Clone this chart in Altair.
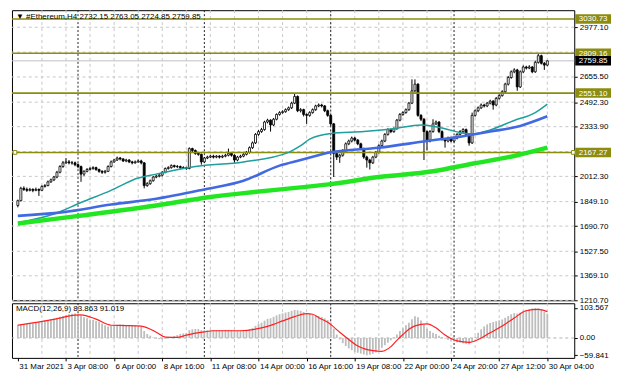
import altair as alt
import pandas as pd

# ---------------- data ----------------
title_text = "\u25bc #Ethereum,H4  2732.15 2763.05 2724.85 2759.85"
macd_text = "MACD(12,26,9) 83.863 91.019"

date_labels = ["31 Mar 2021", "3 Apr 08:00", "6 Apr 00:00", "8 Apr 16:00", "11 Apr 08:00",
               "14 Apr 00:00", "16 Apr 16:00", "19 Apr 08:00", "22 Apr 00:00", "24 Apr 20:00",
               "27 Apr 12:00", "30 Apr 04:00"]
label_bars = [0, 16, 32, 48, 64, 80, 96, 112, 128, 144, 160, 176]
grid_bars = [8, 16, 24, 32, 40, 48, 56, 64, 72, 80, 88, 96, 104, 112, 120, 128, 136, 144, 152, 160, 168, 176]
week_separators = [20, 62, 104, 145]

price_ticks = [2977.10, 2655.50, 2492.30, 2333.90, 2012.30, 1849.10, 1690.70, 1527.50, 1369.10, 1210.70]
price_grid = [2977.10, 2816.30, 2655.50, 2492.30, 2333.90, 2173.10, 2012.30, 1849.10, 1690.70, 1527.50, 1369.10, 1210.70]

levels = [3030.73, 2809.16, 2551.10, 2167.27]
level_labels = ["3030.73", "2809.16", "2551.10", "2167.27"]
bid_price = 2759.85
bid_label = "2759.85"

first_open = 1824.0
close = [1855, 1935, 1928, 1922, 1928, 1922, 1928, 1922, 1947, 1953,
         1977, 1990, 2008, 2039, 2076, 2100, 2106, 2100, 2100, 2088,
         2076, 2027, 2045, 2057, 2063, 2069, 2057, 2045, 2039, 2045,
         2076, 2106, 2118, 2131, 2125, 2112, 2118, 2106, 2100, 2106,
         2112, 2100, 1953, 1965, 1984, 2008, 2014, 2020, 2039, 2063,
         2069, 2082, 2076, 2076, 2069, 2069, 2063, 2192, 2180,
         2161, 2155, 2106, 2131, 2137, 2143, 2137, 2143, 2137, 2143,
         2149, 2161, 2149, 2118, 2137, 2143, 2155, 2168, 2198, 2229,
         2284, 2302, 2315, 2364, 2376, 2345, 2382, 2413, 2425, 2431,
         2444, 2456, 2486, 2529, 2437, 2444, 2413, 2407, 2425, 2444,
         2468, 2474, 2468, 2437, 2407, 2352, 2161, 2137, 2149, 2180,
         2223, 2241, 2260, 2247, 2223, 2192, 2137, 2118, 2100,
         2137, 2168, 2211, 2241, 2284, 2315, 2302, 2321, 2376, 2413,
         2425, 2444, 2486, 2566, 2609, 2407, 2382, 2302, 2241, 2302,
         2352, 2364, 2302, 2253, 2241, 2260, 2241, 2260, 2284, 2302,
         2315, 2284, 2229, 2407, 2437, 2456, 2474, 2468, 2486, 2499,
         2474, 2517, 2535, 2560, 2609, 2652, 2689, 2701, 2591, 2689,
         2720, 2713, 2720, 2689, 2750, 2793, 2744, 2732.15, 2759.85]
high = [1862, 1945, 1948, 1940, 1938, 1935, 1940, 1934, 1955, 1962,
        1985, 1998, 2015, 2048, 2085, 2112, 2131, 2118, 2112, 2108,
        2096, 2082, 2052, 2066, 2072, 2078, 2075, 2062, 2052, 2054,
        2084, 2115, 2126, 2140, 2138, 2130, 2126, 2124, 2113, 2115,
        2122, 2120, 2104, 1975, 1992, 2015, 2024, 2030, 2046, 2070,
        2078, 2090, 2088, 2086, 2082, 2078, 2075, 2200, 2198,
        2186, 2168, 2160, 2138, 2146, 2150, 2152, 2150, 2150, 2152,
        2158, 2192, 2168, 2155, 2145, 2152, 2162, 2176, 2206, 2238,
        2292, 2312, 2326, 2372, 2385, 2382, 2390, 2420, 2434, 2440,
        2452, 2464, 2495, 2548, 2536, 2454, 2450, 2420, 2434, 2452,
        2476, 2484, 2482, 2474, 2444, 2412, 2358, 2172, 2158, 2188,
        2232, 2250, 2270, 2268, 2254, 2230, 2198, 2146, 2126,
        2145, 2176, 2220, 2250, 2292, 2324, 2322, 2330, 2384, 2422,
        2434, 2452, 2494, 2640, 2640, 2615, 2415, 2390, 2310, 2312,
        2382, 2374, 2370, 2310, 2260, 2270, 2268, 2270, 2292, 2312,
        2324, 2322, 2290, 2425, 2446, 2465, 2484, 2482, 2494, 2508,
        2506, 2526, 2544, 2570, 2618, 2662, 2698, 2712, 2708, 2698,
        2730, 2728, 2732, 2726, 2760, 2805, 2800, 2752, 2763.05]
low = [1812, 1850, 1918, 1912, 1915, 1910, 1916, 1886, 1918, 1940,
       1948, 1970, 1982, 2000, 2032, 2068, 2092, 2090, 2088, 2078,
       2065, 1977, 2015, 2038, 2050, 2055, 2048, 2036, 2028, 2030,
       2040, 2070, 2100, 2112, 2116, 2105, 2104, 2098, 2090, 2094,
       2100, 2090, 1935, 1945, 1958, 1978, 2000, 2006, 2012, 2032,
       2056, 2062, 2068, 2066, 2060, 2060, 2054, 2058, 2170,
       2152, 2146, 2088, 2100, 2124, 2130, 2128, 2130, 2128, 2130,
       2136, 2142, 2140, 2100, 2110, 2130, 2136, 2148, 2160, 2190,
       2222, 2275, 2294, 2308, 2355, 2302, 2338, 2375, 2405, 2418,
       2424, 2436, 2448, 2480, 2428, 2426, 2400, 2352, 2398, 2418,
       2436, 2460, 2458, 2428, 2398, 2340, 2008, 2118, 2100, 2140,
       2172, 2214, 2232, 2238, 2214, 2182, 2126, 2069, 2057,
       2092, 2130, 2160, 2204, 2234, 2276, 2292, 2294, 2314, 2368,
       2404, 2418, 2436, 2480, 2556, 2398, 2370, 2118, 2180, 2232,
       2295, 2344, 2292, 2244, 2198, 2232, 2232, 2232, 2252, 2276,
       2294, 2276, 2211, 2222, 2398, 2428, 2448, 2458, 2460, 2478,
       2444, 2466, 2508, 2528, 2552, 2600, 2644, 2680, 2566, 2584,
       2680, 2704, 2706, 2680, 2682, 2742, 2736, 2701, 2724.85]

macd_hist = [46, 47, 48, 49, 50, 51,
             53, 55, 57, 60, 62, 64, 67,
             70, 73, 76, 79, 82, 84, 85,
             84, 78,
             72, 68, 64, 62, 59, 55, 50,
             44, 40, 41,
             43, 45, 46, 46, 45, 44, 43, 42, 41,
             38, 24, 14, 8,
             2, -2, -4, -5, -3,
             1, 4, 7, 10, 14, 16, 17,
             27, 30, 31, 31, 27,
             27, 27, 27, 27, 27, 27, 27, 28, 28, 27, 25,
             25, 26, 27, 28, 31, 35, 42, 48,
             53, 60, 66, 68, 73, 78, 82, 85, 88, 90, 94,
             97, 96, 94, 90, 86,
             83, 80, 78, 76, 73, 68, 62,
             52, 32, 12,
             -5, -18, -28, -36, -42,
             -49, -51, -54, -57, -59.841, -58, -55, -50, -42, -34,
             -25, -16, -8, 2, 12, 24, 34,
             44, 53, 65, 75, 72,
             60, 46, 32, 24,
             18, 14, 8, 3, -2,
             -6, -9, -12, -15, -16, -18, -20, -22,
             -10, 5, 18, 30, 40, 47,
             52, 55, 58, 61,
             64, 70, 76, 82, 86, 84, 88, 93, 97, 100, 102, 103.567, 102, 98, 91, 83.863]

signal_bar = [0, 5, 12, 19, 21, 26, 31, 36, 41, 46, 49, 53, 56, 62, 65, 74, 81, 85, 88, 92,
              96, 98, 100, 103, 107, 110, 113, 118, 121, 124, 126, 128, 130, 132, 136, 139, 142, 146,
              150, 154, 157, 160, 163, 165, 169, 173, 176]
signal_val = [44, 52, 64, 79, 80, 65, 44, 43, 41, 20, 3, 2, 10, 21, 25, 25, 35, 47, 59, 74,
              84, 82, 70, 54, 20, -5, -28, -44, -46, -30, -8, 12, 30, 42, 49, 35, 10, -10,
              -15, 0, 18, 35, 55, 69, 94, 99, 91.019]
macd_ticks = [103.567, 0.0, -59.841]

teal_bar = [0, 12, 21, 31, 40, 46, 59, 75, 90, 94, 97, 104, 115, 125, 134, 141, 148, 151, 157, 165, 172, 176]
teal_val = [1713, 1769, 1843, 1922, 2002, 2027, 2076, 2106, 2168, 2211, 2253, 2290, 2302, 2321, 2345,
            2325, 2292, 2286, 2313, 2374, 2425, 2480]
blue_bar = [0, 15, 31, 46, 62, 75, 87, 94, 104, 120, 136, 148, 157, 167, 176]
blue_val = [1757, 1781, 1830, 1867, 1928, 1984, 2082, 2118, 2168, 2198, 2241, 2272, 2302, 2339, 2401]
green_bar = [0, 15, 46, 64, 78, 94, 104, 120, 138, 151, 166, 176]
green_val = [1708, 1744, 1824, 1879, 1910, 1941, 1962, 2008, 2045, 2094, 2149, 2198]

# ---------------- layout / style ----------------
W = 566
H_MAIN = 292
H_MACD = 55
FONT = "Liberation Sans"
OLIVE = "#8c8c10"

n = len(close)
bars = pd.DataFrame({"bar": list(range(n)), "open": [first_open] + close[:-1],
                     "high": high, "low": low, "close": close})
hist_df = pd.DataFrame({"bar": list(range(len(macd_hist))), "hist": macd_hist, "base": [0.0] * len(macd_hist)})
sig_df = pd.DataFrame({"bar": signal_bar, "sig": signal_val})
teal_df = pd.DataFrame({"bar": teal_bar, "v": teal_val})
blue_df = pd.DataFrame({"bar": blue_bar, "v": blue_val})
green_df = pd.DataFrame({"bar": green_bar, "v": green_val})
lev_df = pd.DataFrame({"level": levels, "label": level_labels})
bid_df = pd.DataFrame({"level": [bid_price], "label": [bid_label]})
sel_df = pd.DataFrame({"level": [levels[3]]})
hgrid_df = pd.DataFrame({"p": price_grid})
vgrid_df = pd.DataFrame({"bar": grid_bars})
sep_df = pd.DataFrame({"bar": week_separators})

x_scale = alt.Scale(domain=[-0.3, 183.3], nice=False, zero=False)
y_scale = alt.Scale(domain=[1210.7, 3087.5], nice=False, zero=False)
m_scale = alt.Scale(domain=[-68.8, 120.0], nice=False, zero=False)

price_axis = alt.Axis(orient="right", values=price_ticks, format=".2f", tickSize=3, tickColor="black",
                      labelPadding=2, labelFontSize=8, labelFont=FONT, labelColor="black",
                      domain=False, grid=False, labelFlush=False, labelOverlap=False, title=None)
macd_axis = alt.Axis(orient="right", values=macd_ticks,
                     labelExpr="datum.value == 0 ? '0.00' : format(datum.value, '.3f')",
                     tickSize=3, tickColor="black", labelPadding=2, labelFontSize=8, labelFont=FONT,
                     labelColor="black", domain=False, grid=False, labelFlush=False,
                     labelOverlap=False, title=None)
date_expr = "[" + ",".join("'" + s + "'" for s in date_labels) + "][round(datum.value / 16)]"
date_axis = alt.Axis(orient="bottom", values=label_bars, labelExpr=date_expr, labelAlign="left",
                     labelOffset=1, labelPadding=2, tickSize=3, tickColor="black", labelFontSize=8,
                     labelFont=FONT, labelColor="black", domain=False, grid=False, labelFlush=False,
                     labelOverlap=False, title=None)


def PY(field):
    return alt.Y(field, type="quantitative", scale=y_scale, axis=price_axis, title=None)


def PX(field):
    return alt.X(field, type="quantitative", scale=x_scale, axis=None, title=None)


def MY(field):
    return alt.Y(field, type="quantitative", scale=m_scale, axis=macd_axis, title=None)


def MX(field):
    return alt.X(field, type="quantitative", scale=x_scale, axis=date_axis, title=None)


box_path = "M-1,-0.265L1,-0.265L1,0.265L-1,0.265Z"

# ---------------- main price panel ----------------
hgrid = alt.Chart(hgrid_df).mark_rule(color="#c8c8c8", strokeDash=[3, 3], strokeWidth=1).encode(y=PY("p"))
vgrid = alt.Chart(vgrid_df).mark_rule(color="#c8c8c8", strokeDash=[3, 3], strokeWidth=1).encode(x=PX("bar"))
seps = alt.Chart(sep_df).mark_rule(color="#222222", strokeDash=[2, 2], strokeWidth=1).encode(x=PX("bar"))
bidline = alt.Chart(bid_df).mark_rule(color="#c0c0c0", strokeWidth=1).encode(y=PY("level"))
wicks = alt.Chart(bars).mark_rule(color="black", strokeWidth=1).encode(
    x=PX("bar"), y=PY("low"), y2=alt.Y2("high"))
bodies = alt.Chart(bars).mark_bar(size=2, stroke="black", strokeWidth=0.8).encode(
    x=PX("bar"), y=PY("open"), y2=alt.Y2("close"),
    fill=alt.condition("datum.close >= datum.open", alt.value("white"), alt.value("black")))
lev_lines = alt.Chart(lev_df).mark_rule(color=OLIVE, strokeWidth=1.6).encode(y=PY("level"))
teal = alt.Chart(teal_df).mark_line(color="#1f9e9e", strokeWidth=1.5, interpolate="monotone").encode(
    x=PX("bar"), y=PY("v"))
blue = alt.Chart(blue_df).mark_line(color="#4169e1", strokeWidth=2.6, interpolate="monotone").encode(
    x=PX("bar"), y=PY("v"))
green = alt.Chart(green_df).mark_line(color="#22e622", strokeWidth=4.5, interpolate="monotone").encode(
    x=PX("bar"), y=PY("v"))
sel_left = alt.Chart(sel_df).mark_point(shape="square", size=14, filled=True, fill="white",
                                          stroke=OLIVE, strokeWidth=1, opacity=1).encode(
    x=alt.value(3), y=PY("level"))
sel_right = alt.Chart(sel_df).mark_point(shape="square", size=14, filled=True, fill="white",
                                           stroke=OLIVE, strokeWidth=1, opacity=1).encode(
    x=alt.value(W - 1), y=PY("level"))
lev_box = alt.Chart(lev_df).mark_point(shape=box_path, size=1296, filled=True, color=OLIVE,
                                        opacity=1).encode(x=alt.value(W + 19), y=PY("level"))
lev_txt = alt.Chart(lev_df).mark_text(align="center", baseline="middle", fontSize=8, font=FONT,
                                       color="white", dy=0.5).encode(
    x=alt.value(W + 19), y=PY("level"), text="label:N")
bid_box = alt.Chart(bid_df).mark_point(shape=box_path, size=1296, filled=True, color="black",
                                        opacity=1).encode(x=alt.value(W + 19), y=PY("level"))
bid_txt = alt.Chart(bid_df).mark_text(align="center", baseline="middle", fontSize=8, font=FONT,
                                       color="white", dy=0.5).encode(
    x=alt.value(W + 19), y=PY("level"), text="label:N")
title = alt.Chart(pd.DataFrame({"t": [title_text]})).mark_text(
    align="left", baseline="middle", fontSize=8, font=FONT, color="black").encode(
    x=alt.value(4), y=alt.value(7), text="t:N")

main = alt.layer(hgrid, vgrid, seps, bidline, wicks, bodies, lev_lines, teal, blue, green,
                 sel_left, sel_right, lev_box, lev_txt, bid_box, bid_txt, title).properties(
    width=W, height=H_MAIN)

# ---------------- MACD panel ----------------
m_vgrid = alt.Chart(vgrid_df).mark_rule(color="#c8c8c8", strokeDash=[3, 3], strokeWidth=1).encode(x=MX("bar"))
m_seps = alt.Chart(sep_df).mark_rule(color="#222222", strokeDash=[2, 2], strokeWidth=1).encode(x=MX("bar"))
m_hist = alt.Chart(hist_df).mark_bar(size=1.8, color="#bdbdbd").encode(
    x=MX("bar"), y=MY("hist"), y2=alt.Y2("base"))
m_zero = alt.Chart(pd.DataFrame({"z": [0.0]})).mark_rule(color="#b0b0b0", strokeDash=[3, 3],
                                                          strokeWidth=1).encode(y=MY("z"))
m_sig = alt.Chart(sig_df).mark_line(color="#ff2020", strokeWidth=1.2, interpolate="monotone").encode(
    x=MX("bar"), y=MY("sig"))
m_title = alt.Chart(pd.DataFrame({"t": [macd_text]})).mark_text(
    align="left", baseline="middle", fontSize=8, font=FONT, color="black").encode(
    x=alt.value(4), y=alt.value(6), text="t:N")

macd = alt.layer(m_vgrid, m_seps, m_zero, m_hist, m_sig, m_title).properties(width=W, height=H_MACD)

chart = alt.vconcat(main, macd, spacing=3, bounds="flush").properties(
    padding={"left": 0, "right": 0, "top": 0, "bottom": 0}, background="white"
).configure_view(stroke="black", strokeWidth=1)

chart.save("out.html", embed_options={"renderer": "svg", "actions": False})
